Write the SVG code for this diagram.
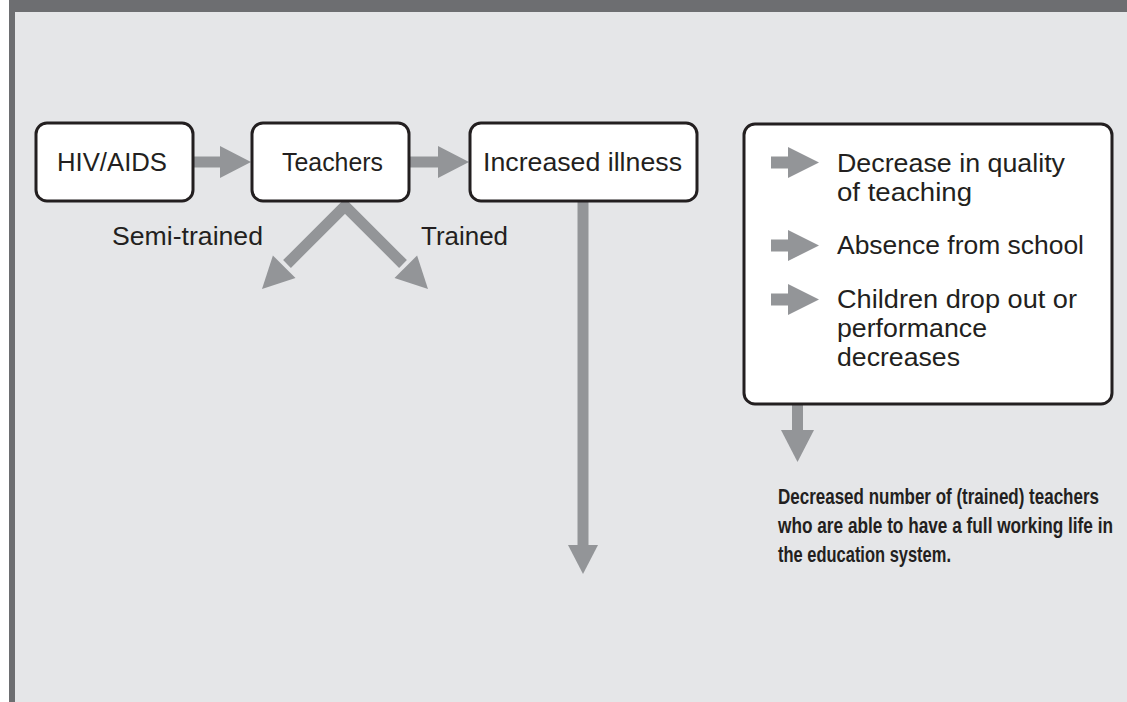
<svg xmlns="http://www.w3.org/2000/svg" width="1127" height="702" viewBox="0 0 1127 702">
<style>
.box{fill:#fff;stroke:#231f20;stroke-width:3}
.t{font-family:"Liberation Sans",Arial,sans-serif;font-size:25px;fill:#231f20}
.b{font-family:"Liberation Sans Narrow","Liberation Sans",Arial,sans-serif;font-weight:bold;font-size:21.5px;fill:#231f20}
.arr{fill:#939598}
.sh{stroke:#939598;stroke-width:11;fill:none;stroke-linejoin:miter}
</style>
<rect width="1127" height="702" fill="#ffffff"/>
<rect x="9" y="0" width="1118" height="702" fill="#6d6e71"/>
<rect x="15" y="12" width="1112" height="690" fill="#e5e6e8"/>
<g id="connectors">
<rect class="arr" x="193" y="156.5" width="29" height="11"/>
<polygon class="arr" points="220,146 220,178 251,162"/>
<rect class="arr" x="409" y="156.5" width="31" height="11"/>
<polygon class="arr" points="438,146 438,178 469,162"/>
<polyline class="sh" points="287,264 345,206 403,264"/>
<polygon class="arr" points="262,289 272.9,255.5 295.5,278.1"/>
<polygon class="arr" points="428,289 417.1,255.5 394.5,278.1"/>
<rect class="arr" x="577.5" y="200" width="11" height="346"/>
<polygon class="arr" points="568,545 598,545 583,574"/>
<rect class="arr" x="792" y="403" width="11" height="28"/>
<polygon class="arr" points="781,430 814,430 797.5,462"/>
</g>
<g id="hiv">
<rect class="box" x="36" y="123" width="157" height="78" rx="11"/>
<text class="t" x="57" y="171" textLength="110" lengthAdjust="spacingAndGlyphs">HIV/AIDS</text>
</g>
<g id="teachers">
<rect class="box" x="252" y="123" width="157" height="78" rx="11"/>
<text class="t" x="282" y="171" textLength="101" lengthAdjust="spacingAndGlyphs">Teachers</text>
</g>
<g id="illness">
<rect class="box" x="470" y="123" width="227" height="78" rx="11"/>
<text class="t" x="483" y="171" textLength="199" lengthAdjust="spacingAndGlyphs">Increased illness</text>
</g>
<g id="label-semi">
<text class="t" x="112" y="245" textLength="151" lengthAdjust="spacingAndGlyphs">Semi-trained</text>
</g>
<g id="label-trained">
<text class="t" x="421" y="245" textLength="87" lengthAdjust="spacingAndGlyphs">Trained</text>
</g>
<g id="effects">
<rect class="box" x="744" y="124" width="368" height="280" rx="11"/>
<rect class="arr" x="771" y="156.5" width="18" height="12"/>
<polygon class="arr" points="788,147 788,178 819,162.5"/>
<rect class="arr" x="771" y="239.5" width="18" height="12"/>
<polygon class="arr" points="788,230 788,261 819,245.5"/>
<rect class="arr" x="771" y="293.5" width="18" height="12"/>
<polygon class="arr" points="788,284 788,315 819,299.5"/>
<text class="t" x="837" y="172" textLength="228" lengthAdjust="spacingAndGlyphs">Decrease in quality</text>
<text class="t" x="837" y="201" textLength="135" lengthAdjust="spacingAndGlyphs">of teaching</text>
<text class="t" x="837" y="254" textLength="247" lengthAdjust="spacingAndGlyphs">Absence from school</text>
<text class="t" x="837" y="308" textLength="240" lengthAdjust="spacingAndGlyphs">Children drop out or</text>
<text class="t" x="837" y="337" textLength="150" lengthAdjust="spacingAndGlyphs">performance</text>
<text class="t" x="837" y="366" textLength="123" lengthAdjust="spacingAndGlyphs">decreases</text>
</g>
<g id="result">
<text class="b" x="778" y="504" textLength="321" lengthAdjust="spacingAndGlyphs">Decreased number of (trained) teachers</text>
<text class="b" x="778" y="533" textLength="335" lengthAdjust="spacingAndGlyphs">who are able to have a full working life in</text>
<text class="b" x="778" y="562" textLength="173" lengthAdjust="spacingAndGlyphs">the education system.</text>
</g>
</svg>
